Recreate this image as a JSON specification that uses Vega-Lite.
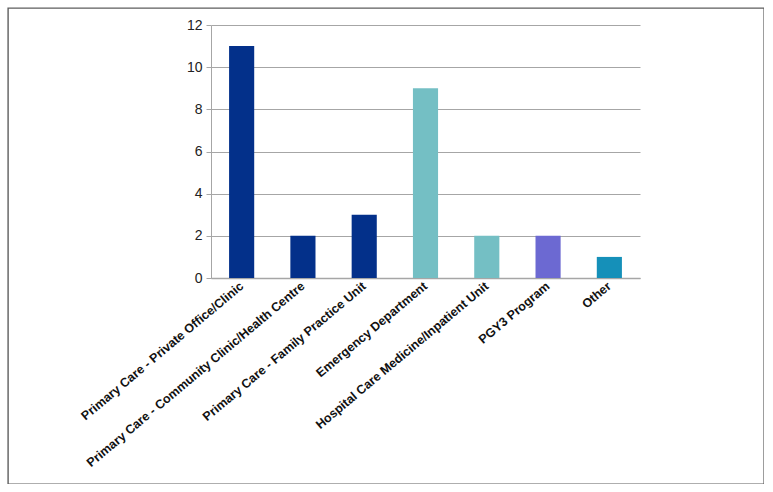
{
  "$schema": "https://vega.github.io/schema/vega-lite/v6.json",
  "autosize": "none",
  "padding": {"left": 8, "top": 8, "right": 0, "bottom": 0},
  "width": 756,
  "height": 476,
  "background": "white",
  "config": {
    "view": {"stroke": "#5e5e5e", "strokeWidth": 1.4},
    "font": "Liberation Sans"
  },
  "data": {
    "values": [
      {"setting": "Primary Care - Private Office/Clinic", "count": 11, "group": "Primary Care"},
      {"setting": "Primary Care - Community Clinic/Health Centre", "count": 2, "group": "Primary Care"},
      {"setting": "Primary Care - Family Practice Unit", "count": 3, "group": "Primary Care"},
      {"setting": "Emergency Department", "count": 9, "group": "Hospital"},
      {"setting": "Hospital Care Medicine/Inpatient Unit", "count": 2, "group": "Hospital"},
      {"setting": "PGY3 Program", "count": 2, "group": "PGY3"},
      {"setting": "Other", "count": 1, "group": "Other"}
    ]
  },
  "mark": {"type": "bar"},
  "encoding": {
    "x": {
      "field": "setting",
      "type": "nominal",
      "sort": null,
      "scale": {"range": [203, 632], "paddingInner": 0.59, "paddingOuter": 0.295},
      "axis": {
        "title": null,
        "orient": "bottom",
        "offset": -206,
        "labelAngle": -40,
        "labelAlign": "right",
        "labelBaseline": "middle",
        "labelFont": "Liberation Sans",
        "labelFontWeight": "bold",
        "labelFontSize": 12.5,
        "labelColor": "#111111",
        "labelPadding": 6,
        "labelLimit": 400,
        "ticks": false,
        "domainColor": "#a6a6a6",
        "domainWidth": 1.5,
        "grid": false
      }
    },
    "y": {
      "field": "count",
      "type": "quantitative",
      "scale": {"domain": [0, 12], "range": [270, 17], "nice": false},
      "axis": {
        "title": null,
        "orient": "left",
        "offset": -203,
        "values": [0, 2, 4, 6, 8, 10, 12],
        "labelFont": "Liberation Sans",
        "labelFontSize": 14,
        "labelColor": "#222222",
        "labelPadding": 4,
        "tickSize": 5,
        "tickColor": "#a6a6a6",
        "domainColor": "#a6a6a6",
        "gridColor": "#a6a6a6",
        "gridWidth": 1
      }
    },
    "color": {
      "field": "group",
      "type": "nominal",
      "scale": {
        "domain": ["Primary Care", "Hospital", "PGY3", "Other"],
        "range": ["#03308a", "#74bfc4", "#6c69d2", "#1590b9"]
      },
      "legend": null
    }
  }
}
